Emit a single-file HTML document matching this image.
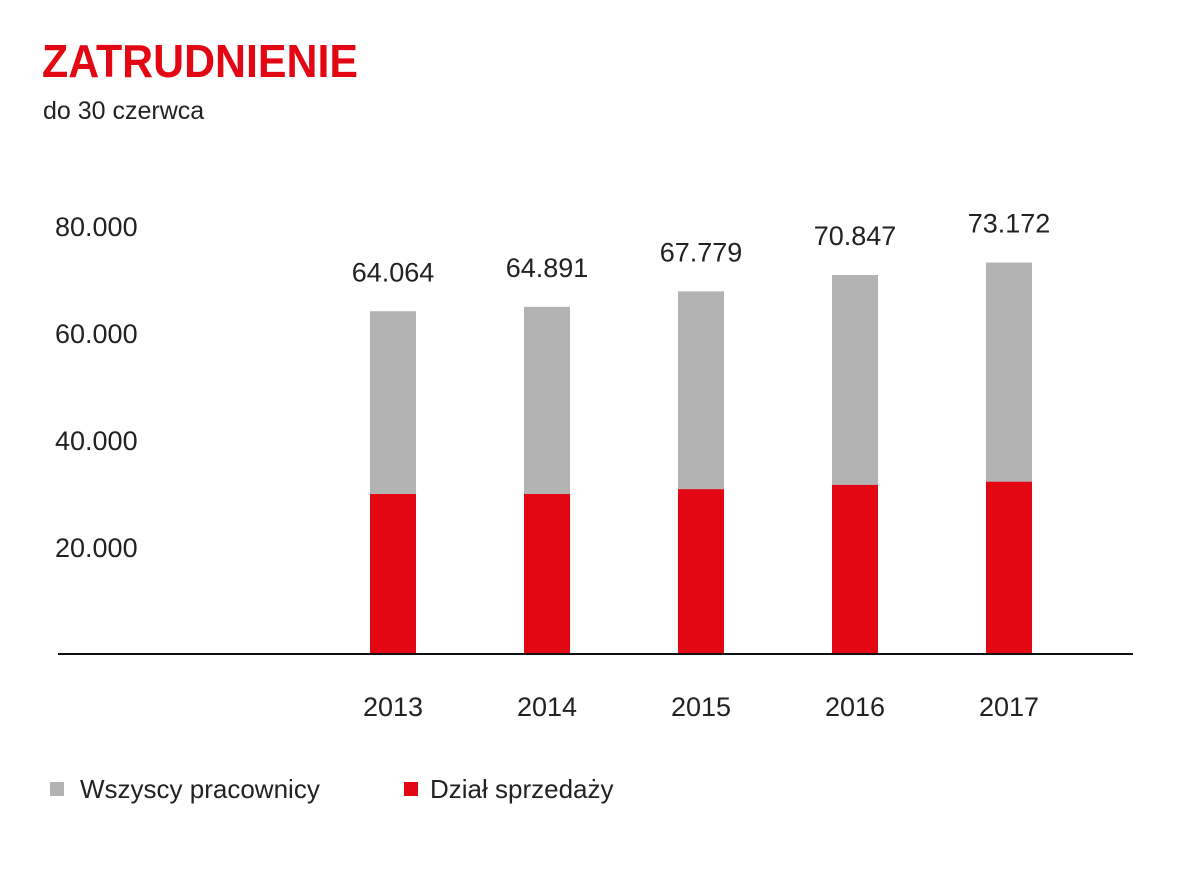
<!DOCTYPE html>
<html><head><meta charset="utf-8"><style>
html,body{margin:0;padding:0;background:#fff;}
svg{display:block;font-family:"Liberation Sans",sans-serif;}
</style></head><body>
<svg id="chart" width="1200" height="886" viewBox="0 0 1200 886">
<text x="42" y="77" font-size="46" font-weight="bold" fill="#e30613" textLength="316" lengthAdjust="spacingAndGlyphs">ZATRUDNIENIE</text>
<text x="43" y="119" font-size="25" fill="#222">do 30 czerwca</text>
<g id="yaxis"></g>
<g id="bars"></g>
<line x1="58" y1="654" x2="1133" y2="654" stroke="#111" stroke-width="2"/>
<g>
<rect x="50" y="782" width="14" height="14" fill="#b3b3b3"/>
<text x="80" y="798" font-size="26" fill="#222">Wszyscy pracownicy</text>
<rect x="404" y="782" width="14" height="14" fill="#e30613"/>
<text x="430" y="798" font-size="26" fill="#222">Dział sprzedaży</text>
</g>
</svg>
<script>
const categories = ["2013","2014","2015","2016","2017"];
const totalValues = [64064,64891,67779,70847,73172];
const salesValues = [29900,29900,30800,31600,32200];
const totalLabels = ["64.064","64.891","67.779","70.847","73.172"];
const yTicks = [20000,40000,60000,80000];
const yTickLabels = ["20.000","40.000","60.000","80.000"];

const NS="http://www.w3.org/2000/svg";
const y0=654, pxPer=107/20000;
function yScale(v){return y0-v*pxPer;}
function xCenter(i){return 393+i*154;}
const bw=46;
function mk(tag,attrs,parent){const e=document.createElementNS(NS,tag);for(const k in attrs)e.setAttribute(k,attrs[k]);parent.appendChild(e);return e;}
const ya=document.getElementById('yaxis'), bars=document.getElementById('bars');
yTicks.forEach((t,i)=>{
  const tx=mk('text',{x:55,y:yScale(t)+10,'font-size':27,fill:'#222'},ya);
  
  
  tx.textContent=yTickLabels[i];
});
categories.forEach((c,i)=>{
  const cx=xCenter(i);
  const g=mk('rect',{x:cx-bw/2,y:yScale(totalValues[i]),width:bw,height:y0-yScale(totalValues[i]),fill:'#b3b3b3'},bars);
  
  
  const r=mk('rect',{x:cx-bw/2,y:yScale(salesValues[i]),width:bw,height:y0-yScale(salesValues[i]),fill:'#e30613'},bars);
  
  
  const v=mk('text',{x:cx,y:yScale(totalValues[i])-30,'font-size':27,fill:'#222','text-anchor':'middle'},bars);
  
  
  v.textContent=totalLabels[i];
  const xl=mk('text',{x:cx,y:716,'font-size':27,fill:'#222','text-anchor':'middle'},bars);
  
  
  xl.textContent=c;
});
</script>
</body></html>
